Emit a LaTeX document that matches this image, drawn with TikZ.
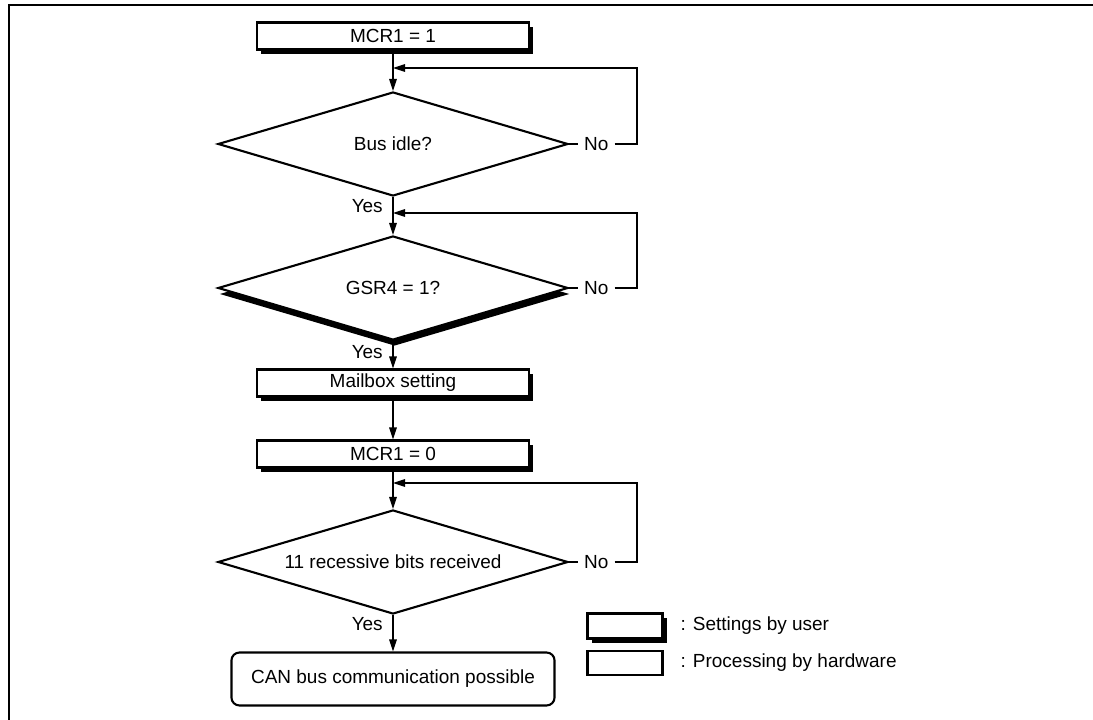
\documentclass[tikz,border=0pt]{standalone}
\usepackage{fontspec}
\setmainfont{Liberation Sans}
\usetikzlibrary{shapes.geometric,shadows,arrows.meta,positioning}

\begin{document}
\begin{tikzpicture}[x=0.025cm, y=-0.025cm,
  font=\fontsize{13.5}{15}\selectfont,
  >={Triangle[length=0.3cm,width=0.19cm]},
  flow/.style={line width=0.85pt},
  usershadow/.style={general shadow={fill=black, shadow xshift=0.11cm, shadow yshift=-0.12cm}},
  userbox/.style={draw, fill=white, line width=1.5pt, minimum width=6.8cm,
    minimum height=0.675cm, inner sep=0pt, usershadow},
  hwbox/.style={draw, fill=white, line width=1.5pt, rounded corners=0.2cm,
    minimum width=8.075cm, minimum height=1.325cm, inner sep=0pt},
  test/.style={diamond, draw, fill=white, line width=1.5pt, aspect=3.4,
    minimum width=8.75cm, minimum height=2.6cm, inner sep=0pt},
  lbl/.style={inner sep=0.15cm}]
  \useasboundingbox (0,0) rectangle (1093,720);
  % frame
  \draw[line width=1.4pt] (9,720) -- (9,5) -- (1093,5);

  % main column
  \node[userbox] (set1) at (393,36) {MCR1 = 1};
  \node[test] (idle) at (393,144) {Bus idle?};
  \node[test, general shadow={fill=black, shadow xshift=0.04cm, shadow yshift=-0.15cm}]
    (gsr) at (393,288) {GSR4 = 1?};
  \node[userbox] (mbox) at (393,383) {Mailbox setting};
  \node[userbox] (set0) at (393,454) {MCR1 = 0};
  \node[test] (rcv) at (393,562) {11 recessive bits received};
  \node[hwbox] (done) at (393,679) {CAN bus communication possible};

  \draw[flow,->] (set1) -- (idle);
  \draw[flow,->] (idle) -- (gsr);
  \draw[flow,->] (gsr) -- (mbox);
  \draw[flow,->] (mbox) -- (set0);
  \draw[flow,->] (set0) -- (rcv);
  \draw[flow,->] (rcv) -- (done);

  \node[lbl, anchor=east] (yes1) at (389,206) {Yes};
  \node[lbl, anchor=east] (yes2) at (389,352) {Yes};
  \node[lbl, anchor=east] (yes3) at (389,624) {Yes};

  % no-loops
  \node[lbl, right=0.22cm of idle.east] (no1) {No};
  \node[lbl, right=0.22cm of gsr.east] (no2) {No};
  \node[lbl, right=0.22cm of rcv.east] (no3) {No};
  \coordinate (up1) at (637,68);
  \coordinate (up2) at (637,213);
  \coordinate (up3) at (637,483);
  \draw[flow] (idle.east) -- (no1);
  \draw[flow] (gsr.east) -- (no2);
  \draw[flow] (rcv.east) -- (no3);
  \draw[flow,->] (no1.east) -| (up1) -- (up1 -| set1.south);
  \draw[flow,->] (no2.east) -| (up2) -- (up2 -| idle.south);
  \draw[flow,->] (no3.east) -| (up3) -- (up3 -| set0.south);

  % legend
  \node[userbox, minimum width=1.875cm, minimum height=0.625cm] (key1) at (625,626) {};
  \node[draw, line width=1.5pt, minimum width=1.875cm, minimum height=0.6cm,
    inner sep=0pt] (key2) at (625,663) {};
  \node[inner sep=0pt, right=0.42cm of key1] (key1t) {: Settings by user};
  \node[inner sep=0pt, right=0.42cm of key2] (key2t) {: Processing by hardware};
\end{tikzpicture}
\end{document}
